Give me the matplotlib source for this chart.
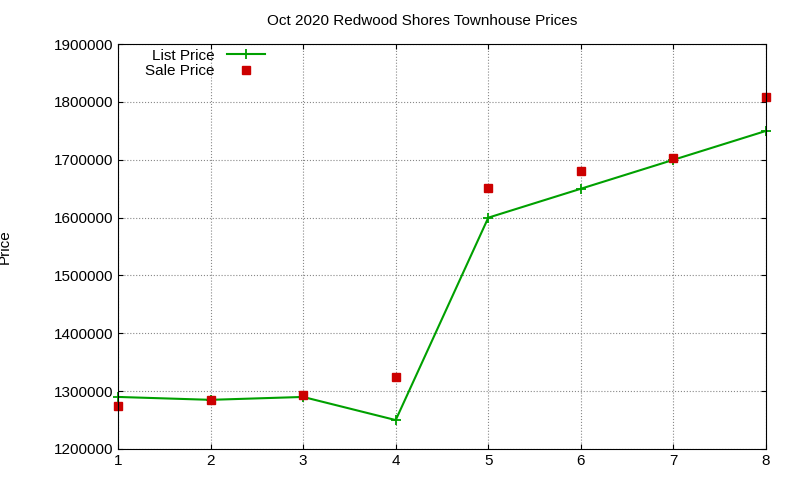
import numpy as np
import matplotlib.pyplot as plt

x = [1, 2, 3, 4, 5, 6, 7, 8]
list_price = [1290000, 1285000, 1290000, 1250000, 1600000, 1650000, 1700000, 1750000]
sale_price = [1275000, 1285000, 1293000, 1325000, 1651000, 1680000, 1703000, 1808000]

plt.rcParams['font.family'] = ['Liberation Sans', 'DejaVu Sans']
fig = plt.figure(figsize=(8, 4.8), dpi=100)
ax = fig.add_axes([0.1475, 0.0646, 0.81, 0.8434])

ax.plot(x, list_price, color='#00a000', lw=1.5, marker='+', ms=7, mew=1.3, label='List Price', clip_on=False)
ax.plot(x, sale_price, ls='none', color='#cc0000', marker='s', ms=6, label='Sale Price', clip_on=False)

ax.set_xlim(1, 8)
ax.set_ylim(1200000, 1900000)
ax.set_yticks(np.arange(1200000, 1900001, 100000))
ax.set_yticklabels([str(v) for v in range(1200000, 1900001, 100000)])
ax.tick_params(direction='in', labelsize=11, top=True, right=True)
ax.grid(True, ls=':', color='#888888', lw=0.8)
ax.set_ylabel('Price', fontsize=11, labelpad=30)
ax.set_title('Oct 2020 Redwood Shores Townhouse Prices', fontsize=11, pad=14, x=0.47)
ax.legend(loc='upper left', bbox_to_anchor=(0.025, 1.015), markerfirst=False, frameon=False,
          fontsize=11, handlelength=2.5, borderaxespad=0.3, labelspacing=0.1)

fig.savefig('out.png')
